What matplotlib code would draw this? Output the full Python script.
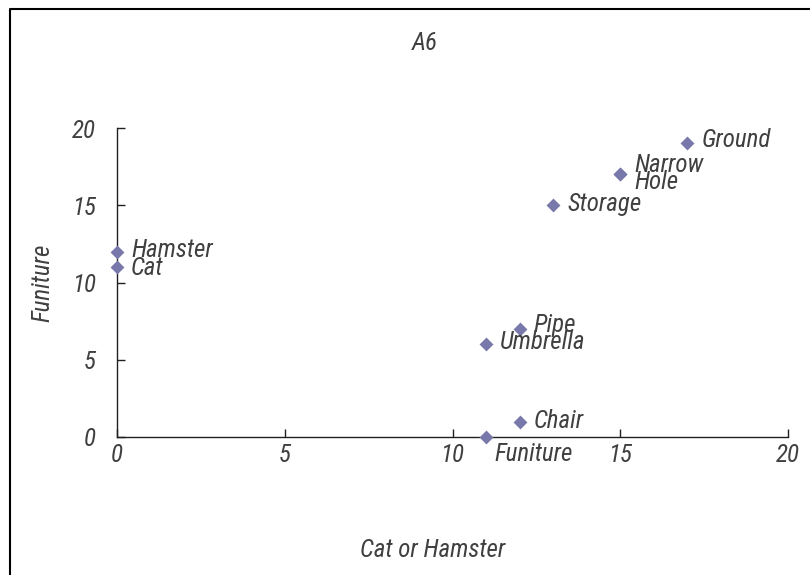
import matplotlib
matplotlib.use("Agg")
import matplotlib.pyplot as plt
from matplotlib.lines import Line2D

labels = ["Hamster", "Cat", "Umbrella", "Pipe", "Chair", "Funiture", "Storage", "Narrow", "Hole", "Ground"]
x_vals = [0, 0, 11, 12, 12, 11, 13, 15, 15, 17]
y_vals = [12, 11, 6, 7, 1, 0, 15, 17, 17, 19]
label_offsets = [(14, 2), (14, -1), (14, 2), (14, 4), (14, 1), (8, -17), (14, 1), (14, 9), (14, -8), (14, 3)]

title = "A6"
xlabel = "Cat or Hamster"
ylabel = "Funiture"
ticks = [0, 5, 10, 15, 20]

fam = ["Roboto Condensed", "Liberation Sans", "DejaVu Sans"]
txt_color = "#404040"
fs = 18

fig = plt.figure(figsize=(8.1, 5.75), dpi=100)
ax = fig.add_axes([117/810, 1-437/575, (788-117)/810, (437-128)/575])
ax.scatter(x_vals, y_vals, marker="D", s=50, color="#7878AA", zorder=3, clip_on=False, linewidths=0)

for lab, x, y, (dx, dy) in zip(labels, x_vals, y_vals, label_offsets):
    ax.annotate(lab, (x, y), xytext=(dx * 0.72, dy * 0.72), textcoords="offset points",
                ha="left", va="center", fontsize=fs, fontstyle="italic", family=fam, color=txt_color)

ax.set_xlim(0, 20)
ax.set_ylim(0, 20)
ax.set_xticks(ticks)
ax.set_yticks(ticks)
ax.spines["top"].set_visible(False)
ax.spines["right"].set_visible(False)
for s in ("left", "bottom"):
    ax.spines[s].set_color("#202020")
    ax.spines[s].set_linewidth(1.0)
ax.tick_params(axis="both", direction="in", length=6, width=1, color="#202020",
               labelsize=fs, labelcolor=txt_color)
ax.tick_params(axis="x", pad=4)
ax.tick_params(axis="y", pad=15)
for t in ax.get_xticklabels() + ax.get_yticklabels():
    t.set_fontstyle("italic")
    t.set_family(fam)

ax.set_xlabel(xlabel, fontsize=fs, fontstyle="italic", family=fam, color=txt_color)
ax.xaxis.set_label_coords((433-117)/671, -(550-437)/309)
ax.xaxis.label.set_va("center")
ax.set_ylabel(ylabel, fontsize=fs, fontstyle="italic", family=fam, color=txt_color)
ax.yaxis.set_label_coords((42-117)/671, 0.5)
ax.yaxis.label.set_va("center")

fig.text(425/810, 1-43/575, title, ha="center", va="center", fontsize=fs,
         fontstyle="italic", family=fam, color=txt_color)

fig.add_artist(Line2D([10/810, 10/810, 1.0], [0.0, 1-9/575, 1-9/575],
                      transform=fig.transFigure, color="black", linewidth=1.5))

fig.savefig("out.png", dpi=100)
